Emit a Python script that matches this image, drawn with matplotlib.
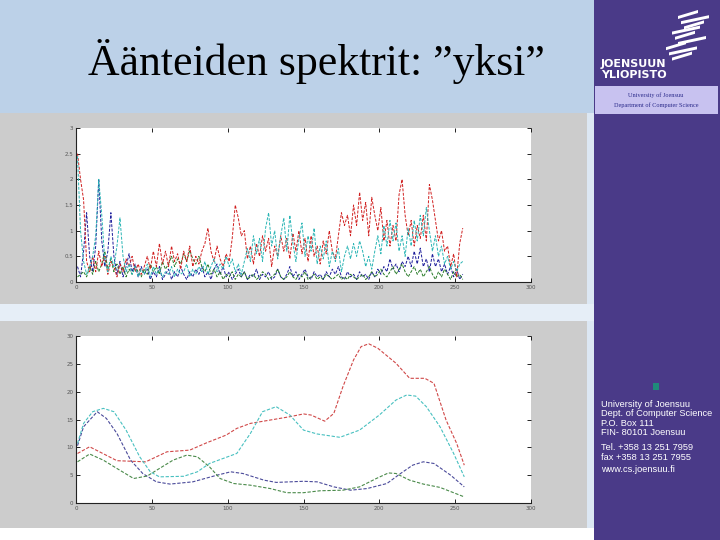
import matplotlib.pyplot as plt
from matplotlib.patches import Rectangle, Polygon

# -------------------------
# Data
# -------------------------

title = "Äänteiden spektrit: \u201dyksi\u201d"

# raw spectra, every second bin (x = 1, 3, ..., 255)
spec_x = list(range(1, 256, 2))
spec_red = [
    2.5, 2.0, 1.6, 0.4, 0.2, 0.5, 0.2, 0.6, 0.3, 0.5,
    0.15, 0.4, 0.3, 0.1, 0.35, 0.2, 0.45, 0.3, 0.5, 0.2,
    0.35, 0.15, 0.3, 0.5, 0.25, 0.6, 0.3, 0.75, 0.35, 0.6,
    0.3, 0.7, 0.4, 0.55, 0.25, 0.6, 0.4, 0.7, 0.3, 0.5,
    0.35, 0.6, 0.75, 1.05, 0.6, 0.4, 0.7, 0.45, 0.3, 0.55,
    0.4, 0.85, 1.5, 1.25, 0.9, 1.0, 0.45, 0.7, 0.35, 0.75,
    0.5, 0.9, 0.6, 0.85, 0.3, 0.7, 0.5, 0.9, 0.6, 0.85,
    0.45, 0.95, 0.6, 1.0, 0.55, 0.85, 0.4, 0.9, 0.5, 0.7,
    0.35, 0.8, 0.55, 1.0, 0.6, 0.45, 0.9, 1.35, 1.1, 1.3,
    0.9, 1.5, 1.1, 1.75, 1.2, 1.55, 0.9, 1.65, 1.3, 1.0,
    1.45, 0.8, 1.2, 0.7, 1.1, 0.8, 1.7, 2.0, 1.3, 0.9,
    1.2, 0.7, 1.1, 0.85, 1.3, 0.8, 1.9, 1.6, 1.2, 0.8,
    1.0, 0.6, 0.7, 0.3, 0.55, 0.1, 0.75, 1.05,
]
spec_cyan = [
    2.45, 1.0, 0.4, 0.15, 0.3, 0.5, 0.9, 2.0, 1.3, 0.4,
    0.2, 0.5, 0.3, 0.7, 1.25, 0.5, 0.2, 0.35, 0.15, 0.3,
    0.1, 0.25, 0.15, 0.35, 0.1, 0.3, 0.15, 0.25, 0.1, 0.2,
    0.15, 0.3, 0.1, 0.25, 0.15, 0.2, 0.35, 0.1, 0.25, 0.15,
    0.3, 0.2, 0.4, 0.15, 0.3, 0.45, 0.2, 0.35, 0.25, 0.5,
    0.3, 0.45, 0.2, 0.35, 0.15, 0.4, 0.65, 0.4, 0.9, 0.55,
    0.85, 0.4, 1.05, 1.35, 0.7, 1.0, 0.45, 0.9, 1.25, 0.6,
    1.3, 0.75, 0.4, 0.85, 1.15, 0.5, 0.9, 0.6, 1.05, 0.35,
    0.7, 0.45, 0.8, 0.3, 0.6, 0.4, 0.65, 0.2, 0.5, 0.7,
    0.45, 0.75, 0.5, 0.8, 0.6, 0.3, 0.5, 0.25, 0.6, 0.9,
    0.55, 1.1, 0.7, 1.2, 0.8, 1.15, 0.6, 0.9, 0.5, 1.05,
    0.7, 1.2, 0.8, 1.3, 0.9, 1.45, 1.0, 0.6, 0.9, 0.5,
    0.7, 0.35, 0.5, 0.25, 0.4, 0.2, 0.35, 0.4,
]
spec_blue = [
    0.3, 0.1, 0.6, 1.35, 0.5, 0.2, 0.7, 2.0, 0.8, 0.3,
    0.6, 1.35, 0.5, 0.15, 0.4, 0.1, 0.3, 0.55, 0.2, 0.35,
    0.1, 0.3, 0.15, 0.25, 0.05, 0.2, 0.1, 0.3, 0.05, 0.15,
    0.25, 0.05, 0.2, 0.1, 0.3, 0.15, 0.05, 0.2, 0.1, 0.25,
    0.15, 0.3, 0.1, 0.2, 0.05, 0.25, 0.35, 0.15, 0.3, 0.1,
    0.2, 0.05, 0.15, 0.25, 0.1, 0.2, 0.05, 0.15, 0.1, 0.25,
    0.05, 0.15, 0.1, 0.2, 0.05, 0.1, 0.25, 0.1, 0.05, 0.15,
    0.3, 0.1, 0.2, 0.05, 0.15, 0.25, 0.1, 0.05, 0.2, 0.1,
    0.15, 0.05, 0.2, 0.1, 0.25, 0.15, 0.3, 0.1, 0.05, 0.2,
    0.1, 0.15, 0.05, 0.2, 0.1, 0.15, 0.05, 0.2, 0.1, 0.25,
    0.15, 0.3, 0.2, 0.45, 0.25, 0.35, 0.2, 0.4, 0.3, 0.5,
    0.3, 0.6, 0.35, 0.66, 0.3, 0.45, 0.2, 0.55, 0.3, 0.45,
    0.2, 0.35, 0.15, 0.3, 0.1, 0.25, 0.05, 0.15,
]
spec_green = [
    0.1, 0.15, 0.2, 0.1, 0.3, 0.15, 0.4, 0.2, 0.35, 0.6,
    0.25, 0.45, 0.2, 0.35, 0.15, 0.3, 0.1, 0.25, 0.15, 0.3,
    0.2, 0.1, 0.25, 0.15, 0.35, 0.2, 0.3, 0.15, 0.4, 0.25,
    0.35, 0.5, 0.3, 0.45, 0.35, 0.55, 0.4, 0.62, 0.45, 0.35,
    0.5, 0.3, 0.2, 0.35, 0.15, 0.25, 0.1, 0.2, 0.05, 0.15,
    0.1, 0.2, 0.05, 0.15, 0.1, 0.2, 0.05, 0.1, 0.15, 0.05,
    0.1, 0.2, 0.15, 0.05, 0.1, 0.15, 0.25, 0.1, 0.05, 0.1,
    0.2, 0.1, 0.05, 0.15, 0.1, 0.2, 0.05, 0.1, 0.15, 0.05,
    0.1, 0.05, 0.15, 0.1, 0.05, 0.1, 0.15, 0.05, 0.1, 0.05,
    0.15, 0.1, 0.05, 0.1, 0.15, 0.05, 0.1, 0.2, 0.1, 0.15,
    0.25, 0.15, 0.1, 0.2, 0.3, 0.15, 0.25, 0.35, 0.2, 0.1,
    0.2, 0.3, 0.15, 0.25, 0.1, 0.2, 0.3, 0.15, 0.05, 0.2,
    0.1, 0.25, 0.15, 0.05, 0.2, 0.1, 0.15, 0.05,
]

# smoothed envelopes (read point by point)
env_red_x = [1, 9, 27, 46, 60, 75, 86, 99, 106, 115, 128, 141, 150, 155,
             164, 170, 176, 183, 188, 193, 199, 211, 220, 230, 236, 244, 251, 256]
env_red_y = [8.9, 10.1, 7.6, 7.4, 9.2, 9.5, 10.8, 12.2, 13.4, 14.3, 14.9, 15.5, 16.0, 15.8,
             14.7, 16.1, 20.9, 25.7, 28.1, 28.6, 27.8, 25.1, 22.4, 22.4, 21.5, 14.9, 10.7, 6.8]
env_cyan_x = [1, 5, 11, 18, 25, 33, 42, 49, 55, 71, 80, 88, 97, 106, 115,
              123, 132, 141, 150, 159, 174, 187, 200, 211, 218, 224, 231, 240, 249, 256]
env_cyan_y = [10.7, 14.3, 16.4, 17.0, 16.4, 13.1, 8.3, 5.6, 4.7, 4.8, 5.6, 7.1, 8.0, 8.9, 12.5,
              16.4, 17.3, 15.8, 13.1, 12.4, 11.8, 13.1, 15.8, 18.5, 19.4, 19.2, 17.3, 13.7, 8.9, 4.7]
env_blue_x = [1, 5, 14, 20, 27, 36, 44, 53, 62, 77, 93, 102, 110, 124, 132,
              150, 159, 170, 181, 192, 205, 214, 222, 229, 236, 247, 256]
env_blue_y = [10.3, 13.7, 16.4, 15.2, 12.5, 7.7, 5.3, 3.8, 3.4, 3.8, 5.0, 5.6, 5.3, 4.1, 3.7,
              3.9, 3.8, 2.9, 2.3, 2.6, 3.5, 5.3, 6.8, 7.4, 7.1, 5.0, 2.9]
env_green_x = [1, 9, 18, 27, 38, 47, 55, 64, 73, 80, 88, 95, 104, 115, 128,
               139, 150, 161, 176, 187, 198, 206, 211, 220, 229, 240, 256]
env_green_y = [7.4, 8.8, 7.7, 6.2, 4.4, 4.85, 6.2, 7.7, 8.6, 8.3, 6.5, 4.4, 3.5, 3.2, 2.6,
               1.85, 1.85, 2.2, 2.3, 2.9, 4.4, 5.4, 5.3, 4.1, 3.4, 2.8, 1.1]

x_ticks = [0, 50, 100, 150, 200, 250, 300]
y_ticks_top = [0, 0.5, 1, 1.5, 2, 2.5, 3]
y_ticks_bottom = [0, 5, 10, 15, 20, 25, 30]

contact_lines = [
    "University of Joensuu",
    "Dept. of Computer Science",
    "P.O. Box 111",
    "FIN- 80101 Joensuu",
    "Tel. +358 13 251 7959",
    "fax +358 13 251 7955",
    "www.cs.joensuu.fi",
]

# -------------------------
# Style
# -------------------------

W, H = 720, 540
PURPLE = "#4a3a88"
C_BLUE, C_GREEN, C_RED, C_CYAN = "#1c1c9a", "#267a26", "#d02020", "#2ab5b5"


def box(x0, y0, x1, y1):
    """pixel box (top-left origin) -> figure fraction rect"""
    return [x0 / W, 1 - y1 / H, (x1 - x0) / W, (y1 - y0) / H]


def rect(x0, y0, x1, y1, color):
    l, b, w, h = box(x0, y0, x1, y1)
    fig.patches.append(Rectangle((l, b), w, h, transform=fig.transFigure,
                                 facecolor=color, edgecolor="none", zorder=-5))


def style_axes(ax, yticks):
    ax.set_zorder(5)
    ax.set_xlim(0, 300)
    ax.set_ylim(yticks[0], yticks[-1])
    ax.set_xticks(x_ticks)
    ax.set_yticks(yticks)
    ax.set_xticklabels([str(t) for t in x_ticks])
    ax.set_yticklabels([("%g" % t) for t in yticks])
    ax.tick_params(direction="in", length=3, width=0.6, labelsize=4,
                   labelcolor="#555555", top=True, right=True, pad=2)
    for s in ["left", "bottom"]:
        ax.spines[s].set_color("#222222")
        ax.spines[s].set_linewidth(0.8)
    for s in ["top", "right"]:
        ax.spines[s].set_visible(False)


fig = plt.figure(figsize=(7.2, 5.4), dpi=100)
fig.patch.set_facecolor("white")

# -------------------------
# Slide background
# -------------------------

rect(0, 0, 594, 113, "#bcd1e8")
rect(0, 113, 594, 528, "#dce7f3")
rect(0, 113, 587, 304, "#cccccc")
rect(0, 304, 594, 321, "#e6eef7")
rect(0, 321, 587, 528, "#cccccc")
rect(594, 0, 720, 540, PURPLE)
rect(595, 86, 718, 114, "#c8c2f0")
rect(653, 383, 659, 390, "#1f8a7a")

fig.text(316 / W, 1 - 62 / H, title, ha="center", va="center",
         fontsize=31.5, family="Liberation Serif", color="black")

# logo stripes
for i in range(9):
    y0 = 10 + i * 5.2
    x0 = 662 + (8 - i) * 2 + (i % 3) * 5
    x1 = x0 + 20 + (i % 2) * 8
    pts = [(x0, y0 + 6), (x1, y0), (x1, y0 + 3), (x0, y0 + 9)]
    fig.patches.append(Polygon([(px / W, 1 - py / H) for px, py in pts],
                               closed=True, transform=fig.transFigure,
                               facecolor="white", edgecolor="none", zorder=1))

fig.text(601 / W, 1 - 67 / H, "JOENSUUN", ha="left", va="baseline",
         fontsize=8, fontweight="bold", color="white", family="DejaVu Sans")
fig.text(601 / W, 1 - 78 / H, "YLIOPISTO", ha="left", va="baseline",
         fontsize=8, fontweight="bold", color="white", family="DejaVu Sans")
fig.text(656 / W, 1 - 95 / H, "University of Joensuu", ha="center", va="center",
         fontsize=4.5, color="#2a2a8a", family="Liberation Serif")
fig.text(656 / W, 1 - 105 / H, "Department of Computer Science", ha="center",
         va="center", fontsize=4.5, color="#2a2a8a", family="Liberation Serif")

contact_base = [407, 416.5, 425.5, 435, 450, 459.5, 472.5]
for line, cy in zip(contact_lines, contact_base):
    fig.text(601 / W, 1 - cy / H, line, ha="left", va="baseline",
             fontsize=6.7, color="white", family="Liberation Sans")

# -------------------------
# Raw spectra
# -------------------------

ax1 = fig.add_axes(box(76, 128, 531, 282))
ax1.set_facecolor("white")
for ys, c in [(spec_blue, C_BLUE), (spec_green, C_GREEN),
              (spec_red, C_RED), (spec_cyan, C_CYAN)]:
    ax1.plot(spec_x, ys, color=c, linewidth=0.7, linestyle=(0, (3, 1.5)))
style_axes(ax1, y_ticks_top)

# -------------------------
# Smoothed spectra
# -------------------------

ax2 = fig.add_axes(box(76, 336, 531, 503))
ax2.set_facecolor("white")
for xs, ys, c in [(env_blue_x, env_blue_y, "#4a4a9a"),
                  (env_green_x, env_green_y, "#4a8a4a"),
                  (env_red_x, env_red_y, "#d04848"),
                  (env_cyan_x, env_cyan_y, "#48c0c0")]:
    ax2.plot(xs, ys, color=c, linewidth=0.8, linestyle=(0, (3, 1.5)))
style_axes(ax2, y_ticks_bottom)

plt.savefig("out.png", dpi=100, facecolor=fig.get_facecolor())
